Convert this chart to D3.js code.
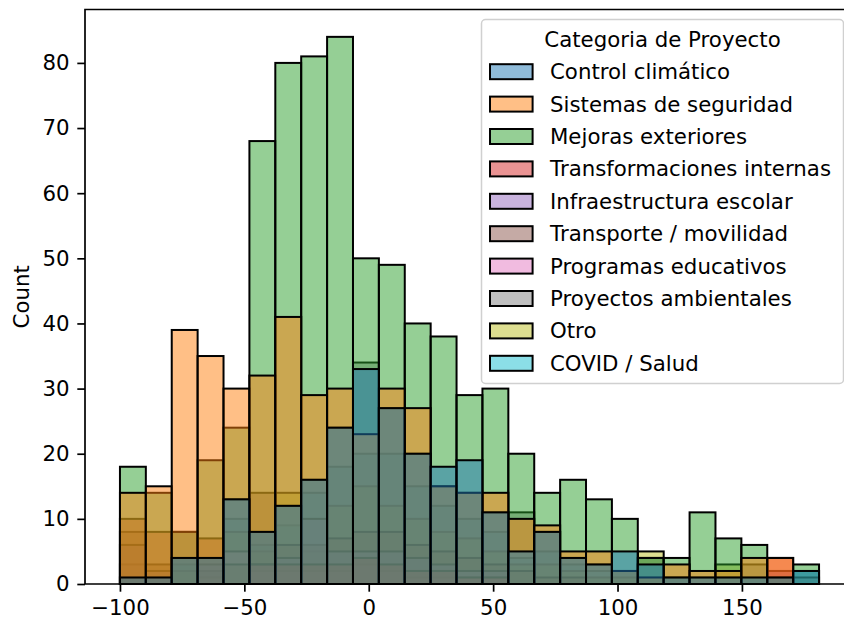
<!DOCTYPE html>
<html>
<head>
<meta charset="utf-8">
<script src="https://cdn.jsdelivr.net/npm/d3@7"></script>
<style>
  body { margin: 0; background: #fff; }
  svg text { font-family: "DejaVu Sans", sans-serif; fill: #000; }
</style>
</head>
<body>
<div id="chart"></div>
<script>
const categories = [
    "Control climático", "Sistemas de seguridad", "Mejoras exteriores",
    "Transformaciones internas", "Infraestructura escolar", "Transporte / movilidad",
    "Programas educativos", "Proyectos ambientales", "Otro", "COVID / Salud"
];
const colors = ["#1f77b4", "#ff7f0e", "#2ca02c", "#d62728", "#9467bd",
                "#8c564b", "#e377c2", "#7f7f7f", "#bcbd22", "#17becf"];

// 27 bins between binStart and binEnd
const binStart = -100, binEnd = 181, binCount = 27;

const controlClimatico   = [1, 1, 4, 4, 13, 8, 12, 16, 24, 33, 27, 20, 18, 19, 11, 5, 8, 4, 3, 5, 3, 1, 1, 1, 1, 1, 2];
const sistemasSeguridad  = [14, 15, 39, 35, 30, 32, 41, 29, 30, 23, 30, 27, 15, 14, 14, 10, 9, 5, 5, 2, 1, 3, 2, 2, 4, 4, 0];
const mejorasExteriores  = [18, 14, 8, 19, 24, 68, 80, 81, 84, 50, 49, 40, 38, 29, 30, 20, 14, 16, 13, 10, 4, 4, 11, 7, 6, 1, 3];
const transformaciones   = [10, 8, 0, 7, 0, 3, 3, 3, 3, 4, 3, 2, 2, 1, 1, 0, 0, 0, 0, 0, 0, 0, 0, 0, 0, 4, 0];
const infraestructura    = [6, 2, 0, 3, 0, 3, 4, 10, 5, 5, 5, 4, 3, 2, 2, 0, 0, 0, 0, 0, 0, 0, 0, 0, 0, 2, 0];
const transporte         = [8, 3, 8, 2, 3, 14, 6, 6, 7, 8, 8, 6, 5, 4, 3, 2, 1, 1, 0, 0, 0, 0, 0, 0, 0, 0, 0];
const programasEducativos = [3, 1, 0, 1, 5, 2, 2, 2, 2, 3, 2, 1, 1, 1, 1, 0, 0, 0, 0, 0, 0, 0, 0, 0, 0, 0, 0];
const proyectosAmbientales = [1, 1, 4, 4, 13, 8, 12, 16, 24, 34, 27, 20, 15, 14, 11, 11, 8, 4, 3, 2, 4, 1, 1, 1, 3, 2, 1];
const otro               = [0, 0, 2, 1, 8, 5, 14, 5, 12, 15, 12, 10, 8, 7, 5, 3, 3, 2, 1, 1, 5, 0, 0, 3, 0, 0, 0];
const covidSalud         = [0, 0, 3, 2, 10, 6, 9, 14, 18, 20, 20, 15, 12, 10, 8, 4, 5, 3, 2, 2, 1, 1, 0, 0, 1, 0, 2];

const series = [controlClimatico, sistemasSeguridad, mejorasExteriores, transformaciones,
                infraestructura, transporte, programasEducativos, proyectosAmbientales,
                otro, covidSalud];

const xTicks = [-100, -50, 0, 50, 100, 150];
const yTicks = [0, 10, 20, 30, 40, 50, 60, 70, 80];

const width = 844, height = 619;
const fontSize = 21.3;
const margin = { left: 85, top: 9.5, right: 854, bottom: 584 };

const svg = d3.select("#chart").append("svg")
    .attr("width", width)
    .attr("height", height);

const edges = d3.range(binCount + 1).map(i => binStart + i * (binEnd - binStart) / binCount);
const pad = (binEnd - binStart) * 0.05;

const x = d3.scaleLinear()
    .domain([binStart - pad, binEnd + pad])
    .range([margin.left, margin.right]);

const yMax = d3.max(series.flat()) * 1.05;
const y = d3.scaleLinear()
    .domain([0, yMax])
    .range([margin.bottom, margin.top]);

// seaborn draws the last hue first, so the first category ends on top
const layers = svg.append("g");
d3.range(categories.length).reverse().forEach(c => {
    const bars = series[c]
        .map((v, i) => ({ v, i }))
        .filter(d => d.v > 0);

    layers.append("g")
        .selectAll("rect")
        .data(bars)
        .join("rect")
        .attr("x", d => x(edges[d.i]))
        .attr("width", d => x(edges[d.i + 1]) - x(edges[d.i]))
        .attr("y", d => y(d.v))
        .attr("height", d => y(0) - y(d.v))
        .attr("fill", colors[c])
        .attr("fill-opacity", 0.5)
        .attr("stroke", "#000")
        .attr("stroke-width", 2);
});

// axes
const xAxis = svg.append("g")
    .attr("transform", `translate(0,${margin.bottom})`)
    .call(d3.axisBottom(x).tickValues(xTicks).tickSize(7.7).tickPadding(7.7).tickFormat(d3.format("d")));

const yAxis = svg.append("g")
    .attr("transform", `translate(${margin.left},0)`)
    .call(d3.axisLeft(y).tickValues(yTicks).tickSize(7.7).tickPadding(7.7));

[xAxis, yAxis].forEach(a => {
    a.select(".domain").remove();
    a.selectAll(".tick line").attr("stroke", "#000").attr("stroke-width", 1.7);
    a.selectAll(".tick text")
        .style("font-size", fontSize + "px")
        .attr("fill", "#000");
});

// spines (right one falls outside the picture)
svg.append("path")
    .attr("d", `M${margin.right},${margin.top}H${margin.left}V${margin.bottom}H${margin.right}`)
    .attr("fill", "none")
    .attr("stroke", "#000")
    .attr("stroke-width", 1.7)
    .attr("stroke-linecap", "square");

svg.append("text")
    .attr("transform", `translate(28.5,${(margin.top + margin.bottom) / 2}) rotate(-90)`)
    .attr("text-anchor", "middle")
    .style("font-size", fontSize + "px")
    .text("Count");

// legend
const legend = svg.append("g");
const lx = 481.5, ly = 19.5, lw = 362, lh = 364;
legend.append("rect")
    .attr("x", lx)
    .attr("y", ly)
    .attr("width", lw)
    .attr("height", lh)
    .attr("rx", 4)
    .attr("fill", "#fff")
    .attr("fill-opacity", 0.8)
    .attr("stroke", "#d0d0d0")
    .attr("stroke-width", 1.5);

legend.append("text")
    .attr("x", lx + lw / 2)
    .attr("y", 40)
    .attr("dy", "0.35em")
    .attr("text-anchor", "middle")
    .style("font-size", fontSize + "px")
    .text("Categoria de Proyecto");

const rowY = i => 71.7 + i * 32.4;

legend.selectAll(".handle")
    .data(categories)
    .join("rect")
    .classed("handle", true)
    .attr("x", 490)
    .attr("y", (d, i) => rowY(i) - 7.5)
    .attr("width", 42.6)
    .attr("height", 15)
    .attr("fill", (d, i) => colors[i])
    .attr("fill-opacity", 0.5)
    .attr("stroke", "#000")
    .attr("stroke-width", 2);

legend.selectAll(".label")
    .data(categories)
    .join("text")
    .classed("label", true)
    .attr("x", 550)
    .attr("y", (d, i) => rowY(i))
    .attr("dy", "0.35em")
    .style("font-size", fontSize + "px")
    .text(d => d);
</script>
</body>
</html>
